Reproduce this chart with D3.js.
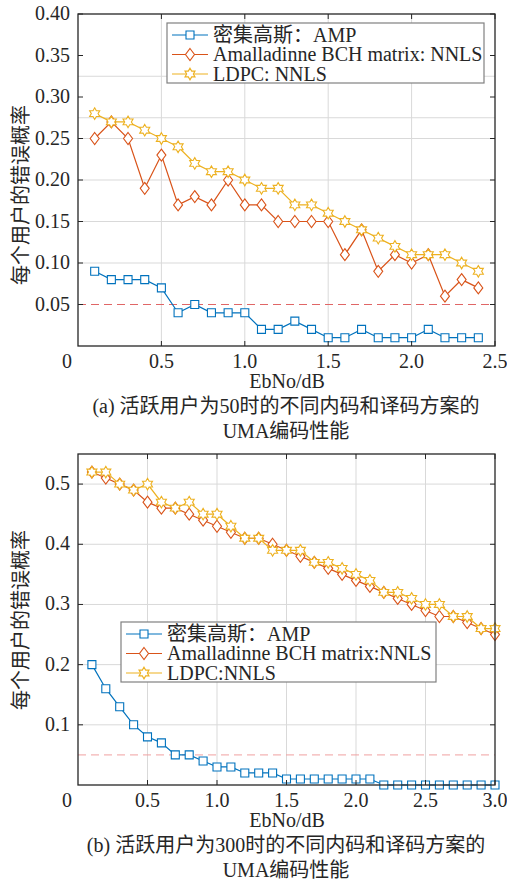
<!DOCTYPE html>
<html>
<head>
<meta charset="utf-8">
<script src="https://cdn.jsdelivr.net/npm/d3@7"></script>
<style>
  body { margin: 0; background: #fff; }
  text { font-family: "Liberation Serif", "Noto Sans CJK SC", serif; fill: #262626; }
</style>
</head>
<body>
<svg width="507" height="881"></svg>
<script>
// ---- data: panel (a), 50 active users ----
const ebnoA = [0.1, 0.2, 0.3, 0.4, 0.5, 0.6, 0.7, 0.8, 0.9, 1.0, 1.1, 1.2,
  1.3, 1.4, 1.5, 1.6, 1.7, 1.8, 1.9, 2.0, 2.1, 2.2, 2.3, 2.4];
const ampA = [0.09, 0.08, 0.08, 0.08, 0.07, 0.04, 0.05, 0.04, 0.04, 0.04, 0.02, 0.02,
  0.03, 0.02, 0.01, 0.01, 0.02, 0.01, 0.01, 0.01, 0.02, 0.01, 0.01, 0.01];
const bchA = [0.25, 0.27, 0.25, 0.19, 0.23, 0.17, 0.18, 0.17, 0.20, 0.17, 0.17, 0.15,
  0.15, 0.15, 0.15, 0.11, 0.14, 0.09, 0.11, 0.10, 0.11, 0.06, 0.08, 0.07];
const ldpcA = [0.28, 0.27, 0.27, 0.26, 0.25, 0.24, 0.22, 0.21, 0.21, 0.20, 0.19, 0.19,
  0.17, 0.17, 0.16, 0.15, 0.14, 0.13, 0.12, 0.11, 0.11, 0.11, 0.10, 0.09];

// ---- data: panel (b), 300 active users ----
const ebnoB = [0.1, 0.2, 0.3, 0.4, 0.5, 0.6, 0.7, 0.8, 0.9, 1.0, 1.1, 1.2, 1.3, 1.4, 1.5,
  1.6, 1.7, 1.8, 1.9, 2.0, 2.1, 2.2, 2.3, 2.4, 2.5, 2.6, 2.7, 2.8, 2.9, 3.0];
const ampB = [0.20, 0.16, 0.13, 0.10, 0.08, 0.07, 0.05, 0.05, 0.04, 0.03, 0.03, 0.02, 0.02, 0.02, 0.01,
  0.01, 0.01, 0.01, 0.01, 0.01, 0.01, 0, 0, 0, 0, 0, 0, 0, 0, 0];
const bchB = [0.52, 0.51, 0.50, 0.49, 0.47, 0.46, 0.46, 0.45, 0.44, 0.43, 0.42, 0.41, 0.41, 0.40, 0.39,
  0.38, 0.37, 0.36, 0.35, 0.34, 0.33, 0.32, 0.31, 0.30, 0.29, 0.28, 0.28, 0.27, 0.26, 0.25];
const ldpcB = [0.52, 0.52, 0.50, 0.49, 0.50, 0.47, 0.46, 0.47, 0.45, 0.45, 0.43, 0.41, 0.41, 0.39, 0.39,
  0.39, 0.37, 0.37, 0.36, 0.35, 0.34, 0.32, 0.32, 0.31, 0.30, 0.30, 0.28, 0.28, 0.26, 0.26];

// ticks / labels
const xTicksA = [0.5, 1.0, 1.5, 2.0, 2.5];
const yTicksA = [0.05, 0.10, 0.15, 0.20, 0.25, 0.30, 0.35, 0.40];
const yGridA = [0.10, 0.15, 0.20, 0.25, 0.275, 0.325];
const xTicksB = [0.5, 1.0, 1.5, 2.0, 2.5, 3.0];
const yTicksB = [0.1, 0.2, 0.3, 0.4, 0.5];
const threshold = 0.05;

const legendA = ["密集高斯：AMP", "Amalladinne BCH matrix: NNLS", "LDPC: NNLS"];
const legendB = ["密集高斯：AMP", "Amalladinne BCH matrix:NNLS", "LDPC:NNLS"];
const yTitle = "每个用户的错误概率";
const xTitle = "EbNo/dB";
const captionA = ["(a) 活跃用户为50时的不同内码和译码方案的", "UMA编码性能"];
const captionB = ["(b) 活跃用户为300时的不同内码和译码方案的", "UMA编码性能"];

const colors = ["#0072BD", "#D95319", "#EDB120"];
const markers = ["square", "diamond", "hexagram"];

const svg = d3.select("svg");

function markerPath(type) {
  if (type === "square") return "M-4,-4H4V4H-4Z";
  if (type === "diamond") return "M0,-6L4.5,0L0,6L-4.5,0Z";
  // six-pointed star
  const R = 5.8, r = R / Math.sqrt(3);
  const pts = d3.range(12).map(i => {
    const a = -Math.PI / 2 + i * Math.PI / 6;
    const rad = i % 2 === 0 ? R : r;
    return [rad * Math.cos(a), rad * Math.sin(a)];
  });
  return "M" + pts.join("L") + "Z";
}

function panel(cfg) {
  const x = d3.scaleLinear().domain(cfg.xDomain).range([cfg.left, cfg.right]);
  const y = d3.scaleLinear().domain(cfg.yDomain).range([cfg.bottom, cfg.top]);
  const g = svg.append("g");

  // grid
  g.selectAll(".gx").data(cfg.xGrid).enter().append("line")
    .attr("x1", d => x(d)).attr("x2", d => x(d))
    .attr("y1", cfg.top).attr("y2", cfg.bottom)
    .attr("stroke", "#d9d9d9").attr("stroke-width", 1);
  g.selectAll(".gy").data(cfg.yGrid).enter().append("line")
    .attr("x1", cfg.left).attr("x2", cfg.right)
    .attr("y1", d => y(d)).attr("y2", d => y(d))
    .attr("stroke", "#d9d9d9").attr("stroke-width", 1);

  // threshold dashed line
  g.append("line")
    .attr("x1", cfg.left).attr("x2", cfg.right)
    .attr("y1", y(threshold)).attr("y2", y(threshold))
    .attr("stroke", cfg.dashColor).attr("stroke-width", 1)
    .attr("stroke-dasharray", "8,5");

  // series
  const line = d3.line().x(d => x(d[0])).y(d => y(d[1]));
  cfg.series.forEach((s, k) => {
    const pts = cfg.xs.map((v, i) => [v, s[i]]);
    g.append("path").datum(pts)
      .attr("d", line).attr("fill", "none")
      .attr("stroke", colors[k]).attr("stroke-width", 1.2);
    g.selectAll(".m" + k).data(pts).enter().append("path")
      .attr("d", markerPath(markers[k]))
      .attr("transform", d => `translate(${x(d[0])},${y(d[1])})`)
      .attr("fill", "#fff").attr("stroke", colors[k]).attr("stroke-width", 1.1);
  });

  // box and inward ticks
  g.append("rect")
    .attr("x", cfg.left).attr("y", cfg.top)
    .attr("width", cfg.right - cfg.left).attr("height", cfg.bottom - cfg.top)
    .attr("fill", "none").attr("stroke", "#262626").attr("stroke-width", 1.3);
  const tl = 5;
  cfg.xTicks.forEach(t => {
    g.append("line").attr("x1", x(t)).attr("x2", x(t))
      .attr("y1", cfg.bottom).attr("y2", cfg.bottom - tl).attr("stroke", "#262626");
    g.append("line").attr("x1", x(t)).attr("x2", x(t))
      .attr("y1", cfg.top).attr("y2", cfg.top + tl).attr("stroke", "#262626");
    g.append("text").attr("x", x(t)).attr("y", cfg.bottom + 22)
      .attr("text-anchor", "middle").style("font-size", "20px")
      .text(d3.format(".1f")(t));
  });
  cfg.yTicks.forEach(t => {
    g.append("line").attr("x1", cfg.left).attr("x2", cfg.left + tl)
      .attr("y1", y(t)).attr("y2", y(t)).attr("stroke", "#262626");
    g.append("line").attr("x1", cfg.right).attr("x2", cfg.right - tl)
      .attr("y1", y(t)).attr("y2", y(t)).attr("stroke", "#262626");
    g.append("text").attr("x", cfg.left - 8).attr("y", y(t) + 6)
      .attr("text-anchor", "end").style("font-size", "20px")
      .text(d3.format(cfg.yFmt)(t));
  });
  // corner zero
  g.append("text").attr("x", cfg.left - 11).attr("y", cfg.bottom + 22)
    .attr("text-anchor", "middle").style("font-size", "20px").text("0");

  // axis titles and caption
  g.append("text")
    .attr("transform", `translate(28,${cfg.yTitleY}) rotate(-90)`)
    .attr("text-anchor", "middle").style("font-size", "20px").text(yTitle);
  g.append("text").attr("x", 287).attr("y", cfg.bottom + 42)
    .attr("text-anchor", "middle").style("font-size", "20px").text(xTitle);
  cfg.caption.forEach((c, i) => {
    g.append("text").attr("x", 286).attr("y", cfg.bottom + 67 + i * 25)
      .attr("text-anchor", "middle").style("font-size", "20px").text(c);
  });

  // legend
  const L = cfg.legend;
  g.append("rect").attr("x", L.x).attr("y", L.y).attr("width", L.w).attr("height", L.h)
    .attr("fill", "#fff").attr("stroke", "#808080").attr("stroke-width", 1.2);
  cfg.legendText.forEach((txt, k) => {
    const ry = L.y + 12 + k * 19.5;
    g.append("line").attr("x1", L.x + 5).attr("x2", L.x + 41)
      .attr("y1", ry).attr("y2", ry).attr("stroke", colors[k]).attr("stroke-width", 1.2);
    g.append("path").attr("d", markerPath(markers[k]))
      .attr("transform", `translate(${L.x + 23},${ry})`)
      .attr("fill", "#fff").attr("stroke", colors[k]).attr("stroke-width", 1.1);
    g.append("text").attr("x", L.x + 46).attr("y", ry + 6.5)
      .style("font-size", "20px").text(txt);
  });
}

panel({
  left: 78, right: 495, top: 14, bottom: 346,
  xDomain: [0, 2.5], yDomain: [0, 0.40],
  xs: ebnoA, series: [ampA, bchA, ldpcA],
  xTicks: xTicksA, yTicks: yTicksA, yFmt: ".2f",
  xGrid: [0.5, 1.0, 1.5, 2.0], yGrid: yGridA,
  dashColor: "#e06666",
  legend: { x: 167, y: 23, w: 317, h: 60 }, legendText: legendA,
  caption: captionA, yTitleY: 195
});

panel({
  left: 78, right: 495, top: 454, bottom: 785,
  xDomain: [0, 3.0], yDomain: [0, 0.55],
  xs: ebnoB, series: [ampB, bchB, ldpcB],
  xTicks: xTicksB, yTicks: yTicksB, yFmt: ".1f",
  xGrid: [0.5, 1.0, 1.5, 2.0, 2.5], yGrid: yTicksB,
  dashColor: "#f0a0a0",
  legend: { x: 121, y: 622, w: 315, h: 60 }, legendText: legendB,
  caption: captionB, yTitleY: 620
});
</script>
</body>
</html>
